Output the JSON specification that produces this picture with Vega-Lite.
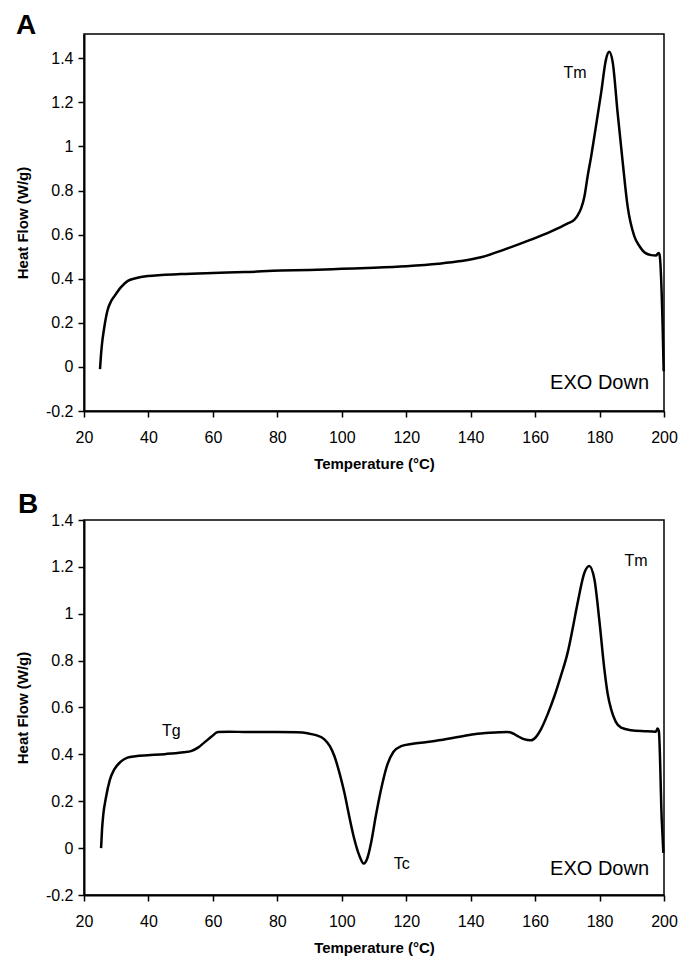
{
  "$schema": "https://vega.github.io/schema/vega-lite/v6.json",
  "padding": {"left": 14, "top": 11, "right": 10, "bottom": 5},
  "background": "white",
  "spacing": 109,
  "bounds": "flush",
  "datasets": {
    "A": [
      {"T": 24.97, "v": -0.01}, {"T": 25.2, "v": 0.04}, {"T": 25.5, "v": 0.092}, {"T": 26.3, "v": 0.18},
      {"T": 27.35, "v": 0.259}, {"T": 28.3, "v": 0.295}, {"T": 29.4, "v": 0.32}, {"T": 31.5, "v": 0.362},
      {"T": 33.6, "v": 0.39}, {"T": 36, "v": 0.402}, {"T": 39.8, "v": 0.412}, {"T": 50, "v": 0.421},
      {"T": 60, "v": 0.426}, {"T": 70, "v": 0.43}, {"T": 81, "v": 0.437}, {"T": 90, "v": 0.44},
      {"T": 100, "v": 0.445}, {"T": 110, "v": 0.45}, {"T": 120, "v": 0.457}, {"T": 130, "v": 0.468},
      {"T": 137, "v": 0.48}, {"T": 143.2, "v": 0.497}, {"T": 150, "v": 0.53}, {"T": 158.7, "v": 0.577},
      {"T": 165, "v": 0.615}, {"T": 170, "v": 0.65}, {"T": 172.2, "v": 0.668}, {"T": 173.3, "v": 0.69},
      {"T": 174.3, "v": 0.72}, {"T": 175.3, "v": 0.773}, {"T": 176.3, "v": 0.865}, {"T": 177.4, "v": 0.955},
      {"T": 178.4, "v": 1.047}, {"T": 180.5, "v": 1.244},
      {"T": 182, "v": 1.395}, {"T": 183, "v": 1.429}, {"T": 184.1, "v": 1.38}, {"T": 185.6, "v": 1.153},
      {"T": 187.2, "v": 0.926}, {"T": 188.7, "v": 0.729}, {"T": 190.8, "v": 0.592}, {"T": 192.5, "v": 0.545},
      {"T": 193.9, "v": 0.52}, {"T": 196, "v": 0.507}, {"T": 197.5, "v": 0.505}, {"T": 198.3, "v": 0.517},
      {"T": 198.6, "v": 0.51}, {"T": 199.6, "v": 0.17}, {"T": 199.9, "v": -0.02}
    ],
    "B": [
      {"T": 25.3, "v": 0.0}, {"T": 25.6, "v": 0.08}, {"T": 26.0, "v": 0.145}, {"T": 26.8, "v": 0.215},
      {"T": 28.0, "v": 0.29}, {"T": 29.4, "v": 0.336}, {"T": 31.5, "v": 0.37}, {"T": 33.5, "v": 0.386},
      {"T": 36, "v": 0.392}, {"T": 39.8, "v": 0.396}, {"T": 45, "v": 0.401}, {"T": 48, "v": 0.405},
      {"T": 51, "v": 0.409}, {"T": 53.2, "v": 0.414}, {"T": 55.5, "v": 0.43}, {"T": 57.3, "v": 0.45},
      {"T": 59.5, "v": 0.475}, {"T": 61.5, "v": 0.495}, {"T": 65, "v": 0.497}, {"T": 70.8, "v": 0.495},
      {"T": 80, "v": 0.495}, {"T": 86, "v": 0.494}, {"T": 89.4, "v": 0.49}, {"T": 92, "v": 0.482},
      {"T": 94.6, "v": 0.464}, {"T": 96.3, "v": 0.435}, {"T": 97.7, "v": 0.393}, {"T": 99.3, "v": 0.32},
      {"T": 100.8, "v": 0.237}, {"T": 102.4, "v": 0.13}, {"T": 103.9, "v": 0.038}, {"T": 105.4, "v": -0.03},
      {"T": 106.8, "v": -0.066}, {"T": 108, "v": -0.04}, {"T": 109.1, "v": 0.023}, {"T": 110.6, "v": 0.14},
      {"T": 112.2, "v": 0.251}, {"T": 114, "v": 0.35}, {"T": 116, "v": 0.41}, {"T": 118.4, "v": 0.435},
      {"T": 122, "v": 0.445}, {"T": 126, "v": 0.452}, {"T": 130.8, "v": 0.461}, {"T": 136, "v": 0.474},
      {"T": 141.1, "v": 0.486}, {"T": 146, "v": 0.492}, {"T": 151.5, "v": 0.495}, {"T": 153, "v": 0.49},
      {"T": 154.6, "v": 0.478}, {"T": 156.5, "v": 0.465}, {"T": 158.7, "v": 0.46}, {"T": 160.3, "v": 0.475},
      {"T": 161.8, "v": 0.507}, {"T": 164, "v": 0.575}, {"T": 166, "v": 0.649}, {"T": 168, "v": 0.735},
      {"T": 170.1, "v": 0.834}, {"T": 171.7, "v": 0.94}, {"T": 173.2, "v": 1.047}, {"T": 175.3, "v": 1.175},
      {"T": 176.8, "v": 1.204}, {"T": 178.4, "v": 1.147}, {"T": 179.9, "v": 0.976}, {"T": 181.5, "v": 0.763},
      {"T": 182.5, "v": 0.66}, {"T": 183.6, "v": 0.592}, {"T": 185, "v": 0.54}, {"T": 186.7, "v": 0.514},
      {"T": 189.8, "v": 0.503}, {"T": 194, "v": 0.499}, {"T": 197.5, "v": 0.497}, {"T": 198, "v": 0.51},
      {"T": 198.4, "v": 0.5}, {"T": 199.3, "v": 0.12}, {"T": 199.8, "v": -0.02}
    ]
  },
  "vconcat": [
    {
      "width": 580,
      "height": 377,
      "title": {"text": "A", "anchor": "start", "frame": "group", "dx": -68, "dy": 28, "offset": 0, "baseline": "alphabetic", "fontSize": 28, "font": "Liberation Sans", "fontWeight": "bold", "color": "black"},
      "layer": [
        {
          "data": {"name": "A"},
          "mark": {"type": "line", "color": "black", "strokeWidth": 2.5, "interpolate": "monotone"},
          "encoding": {
            "x": {"field": "T", "type": "quantitative", "scale": {"domain": [20, 200], "nice": false, "zero": false},
                  "axis": {"title": "Temperature (°C)", "values": [20, 40, 60, 80, 100, 120, 140, 160, 180, 200]}},
            "y": {"field": "v", "type": "quantitative", "scale": {"domain": [-0.2, 1.51], "nice": false, "zero": false},
                  "axis": {"title": "Heat Flow (W/g)", "values": [-0.2, 0, 0.2, 0.4, 0.6, 0.8, 1, 1.2, 1.4]}}
          }
        },
        {
          "data": {"values": [{"T": 172.4, "v": 1.311, "label": "Tm"}]},
          "mark": {"type": "text", "fontSize": 16, "font": "Liberation Sans", "color": "black", "align": "center", "baseline": "alphabetic"},
          "encoding": {"x": {"field": "T", "type": "quantitative"}, "y": {"field": "v", "type": "quantitative"}, "text": {"field": "label"}}
        },
        {
          "data": {"values": [{"T": 180, "v": -0.101, "label": "EXO Down"}]},
          "mark": {"type": "text", "fontSize": 20, "font": "Liberation Sans", "color": "black", "align": "center", "baseline": "alphabetic"},
          "encoding": {"x": {"field": "T", "type": "quantitative"}, "y": {"field": "v", "type": "quantitative"}, "text": {"field": "label"}}
        }
      ]
    },
    {
      "width": 580,
      "height": 375,
      "title": {"text": "B", "anchor": "start", "frame": "group", "dx": -66, "dy": 35, "offset": 6, "baseline": "alphabetic", "fontSize": 28, "font": "Liberation Sans", "fontWeight": "bold", "color": "black"},
      "layer": [
        {
          "data": {"name": "B"},
          "mark": {"type": "line", "color": "black", "strokeWidth": 2.5, "interpolate": "monotone"},
          "encoding": {
            "x": {"field": "T", "type": "quantitative", "scale": {"domain": [20, 200], "nice": false, "zero": false},
                  "axis": {"title": "Temperature (°C)", "values": [20, 40, 60, 80, 100, 120, 140, 160, 180, 200]}},
            "y": {"field": "v", "type": "quantitative", "scale": {"domain": [-0.2, 1.4], "nice": false, "zero": false},
                  "axis": {"title": "Heat Flow (W/g)", "values": [-0.2, 0, 0.2, 0.4, 0.6, 0.8, 1, 1.2, 1.4]}}
          }
        },
        {
          "data": {"values": [{"T": 191.3, "v": 1.205, "label": "Tm"}, {"T": 47.1, "v": 0.478, "label": "Tg"}, {"T": 118.6, "v": -0.087, "label": "Tc"}]},
          "mark": {"type": "text", "fontSize": 16, "font": "Liberation Sans", "color": "black", "align": "center", "baseline": "alphabetic"},
          "encoding": {"x": {"field": "T", "type": "quantitative"}, "y": {"field": "v", "type": "quantitative"}, "text": {"field": "label"}}
        },
        {
          "data": {"values": [{"T": 180, "v": -0.116, "label": "EXO Down"}]},
          "mark": {"type": "text", "fontSize": 20, "font": "Liberation Sans", "color": "black", "align": "center", "baseline": "alphabetic"},
          "encoding": {"x": {"field": "T", "type": "quantitative"}, "y": {"field": "v", "type": "quantitative"}, "text": {"field": "label"}}
        }
      ]
    }
  ],
  "config": {
    "font": "Liberation Sans",
    "view": {"stroke": "black", "strokeWidth": 1.5},
    "axis": {
      "grid": false,
      "domainColor": "black",
      "domainWidth": 2,
      "tickColor": "black",
      "tickWidth": 1.5,
      "tickSize": 6,
      "labelFont": "Liberation Sans",
      "labelFontSize": 16,
      "labelColor": "black",
      "labelExpr": "toString(round(datum.value*10)/10)",
      "titleFont": "Liberation Sans",
      "titleFontSize": 15,
      "titleFontWeight": "bold",
      "titleColor": "black"
    },
    "axisX": {"labelPadding": 12, "titlePadding": 11, "labelFlush": false},
    "axisY": {"labelPadding": 5, "titlePadding": 15}
  }
}
